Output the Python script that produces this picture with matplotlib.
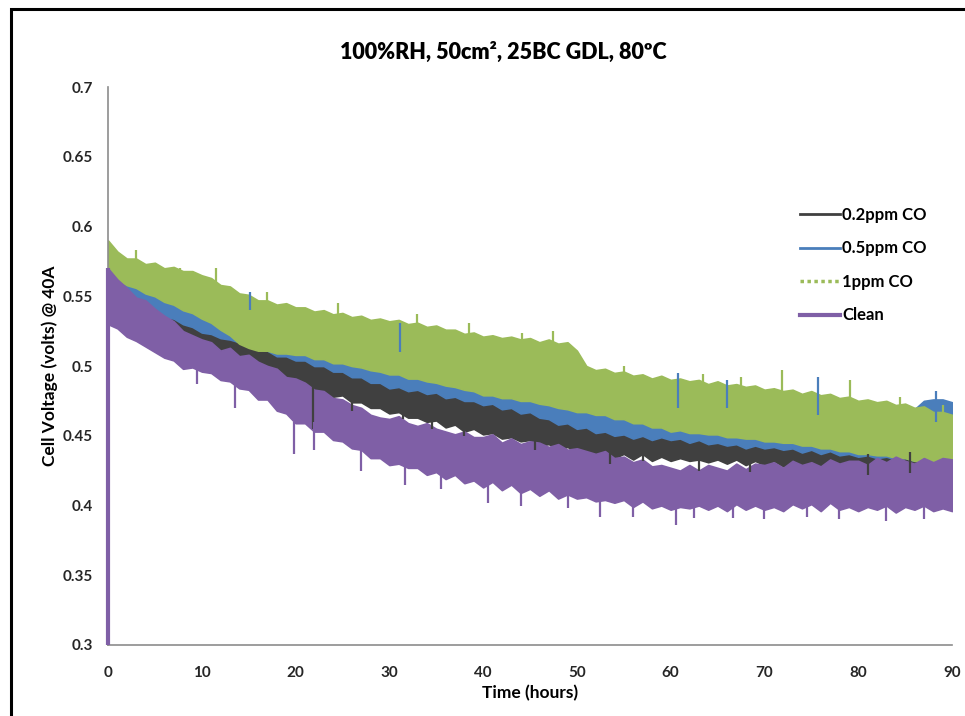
import numpy as np
import matplotlib
matplotlib.use("Agg")
import matplotlib.pyplot as plt
from matplotlib.lines import Line2D
from matplotlib.patches import Rectangle

plt.rcParams['font.family'] = ['Lato', 'DejaVu Sans']

# readings every hour, lower / upper edge of the noisy band (volts)
hours = np.arange(91)

clean_hi = [.570, .562, .556, .549, .547, .541, .536, .532, .525, .522,
            .519, .517, .511, .513, .507, .508, .503, .500, .498, .492,
            .491, .488, .483, .482, .477, .476, .472, .470, .465, .463,
            .462, .464, .459, .457, .459, .455, .453, .451, .453, .449,
            .449, .451, .445, .448, .444, .446, .445, .442, .444, .440,
            .441, .439, .437, .439, .434, .435, .431, .433, .428, .429,
            .427, .425, .429, .425, .429, .427, .425, .430, .426, .430,
            .429, .431, .427, .432, .429, .431, .428, .433, .430, .432,
            .432, .429, .434, .431, .435, .432, .430, .434, .431, .434,
            .433]
clean_lo = [.530, .527, .521, .518, .514, .510, .506, .504, .498, .499,
            .496, .495, .490, .489, .484, .483, .476, .476, .468, .466,
            .459, .459, .453, .453, .447, .446, .441, .440, .434, .434,
            .429, .430, .427, .427, .422, .424, .419, .422, .416, .418,
            .413, .417, .411, .415, .409, .412, .407, .411, .405, .408,
            .405, .406, .403, .404, .402, .404, .399, .403, .398, .400,
            .397, .399, .398, .400, .397, .400, .396, .401, .397, .400,
            .397, .399, .396, .401, .398, .401, .396, .402, .397, .399,
            .396, .399, .397, .400, .395, .399, .397, .400, .396, .398,
            .396]

co02_hi = [.555, .552, .549, .548, .545, .545, .541, .542, .538, .540,
           .537, .535, .530, .528, .523, .523, .517, .517, .511, .511,
           .506, .507, .502, .503, .498, .499, .495, .496, .492, .494,
           .490, .491, .487, .488, .484, .486, .481, .482, .478, .479,
           .475, .477, .472, .474, .469, .471, .466, .468, .464, .465,
           .461, .463, .459, .461, .457, .459, .455, .457, .453, .455,
           .451, .453, .449, .451, .447, .449, .445, .447, .444, .446,
           .442, .445, .441, .445, .442, .444, .442, .444, .441, .444,
           .441, .443, .441, .443, .442, .443, .440, .443, .441, .442,
           .442]
co02_lo = [.530, .532, .529, .530, .526, .526, .521, .522, .517, .519,
           .514, .514, .509, .508, .503, .503, .497, .497, .492, .491,
           .486, .486, .482, .482, .478, .479, .474, .474, .470, .470,
           .466, .467, .463, .463, .460, .461, .456, .458, .453, .455,
           .451, .452, .448, .449, .446, .447, .443, .444, .440, .442,
           .438, .440, .436, .439, .434, .437, .433, .437, .432, .435,
           .432, .434, .432, .433, .431, .433, .430, .433, .429, .432,
           .429, .432, .428, .431, .428, .430, .428, .431, .427, .429,
           .427, .430, .426, .429, .427, .430, .427, .428, .426, .429,
           .428]

co05_hi = [.570, .565, .561, .561, .557, .557, .554, .554, .550, .551,
           .548, .548, .545, .546, .543, .543, .537, .533, .526, .524,
           .519, .519, .516, .516, .513, .513, .510, .511, .507, .508,
           .505, .505, .502, .502, .499, .499, .495, .496, .492, .492,
           .489, .490, .487, .488, .485, .486, .484, .485, .483, .484,
           .482, .482, .478, .478, .475, .476, .471, .471, .467, .467,
           .468, .471, .472, .475, .477, .484, .485, .484, .481, .478,
           .472, .471, .467, .468, .467, .471, .470, .471, .471, .475,
           .472, .469, .465, .466, .466, .470, .469, .475, .476, .476,
           .474]
co05_lo = [.545, .544, .541, .541, .538, .538, .535, .534, .530, .528,
           .524, .523, .520, .519, .517, .515, .512, .511, .507, .507,
           .504, .504, .500, .500, .496, .496, .492, .492, .488, .488,
           .484, .485, .482, .483, .480, .481, .477, .478, .475, .475,
           .472, .473, .469, .470, .466, .467, .463, .462, .458, .459,
           .455, .456, .452, .453, .450, .451, .448, .450, .447, .449,
           .447, .448, .445, .447, .444, .445, .443, .444, .441, .443,
           .441, .442, .440, .441, .438, .440, .437, .439, .436, .437,
           .435, .436, .434, .435, .433, .434, .432, .433, .431, .433,
           .431]

co1_hi = [.590, .582, .577, .577, .573, .574, .570, .571, .568, .568,
          .565, .563, .558, .557, .552, .551, .547, .547, .544, .545,
          .542, .542, .539, .540, .537, .538, .535, .536, .533, .534,
          .532, .533, .530, .531, .528, .529, .526, .526, .523, .524,
          .521, .522, .520, .521, .519, .520, .517, .519, .516, .517,
          .511, .500, .497, .498, .495, .496, .493, .494, .491, .493,
          .490, .491, .489, .490, .487, .489, .486, .487, .485, .486,
          .483, .484, .482, .483, .480, .482, .479, .480, .477, .478,
          .475, .476, .474, .475, .472, .473, .470, .471, .467, .467,
          .465]
co1_lo = [.565, .562, .558, .556, .552, .550, .546, .544, .540, .538,
          .534, .531, .526, .522, .516, .513, .511, .511, .509, .509,
          .508, .508, .505, .505, .502, .502, .500, .499, .497, .496,
          .494, .494, .491, .491, .489, .488, .486, .485, .483, .482,
          .479, .479, .477, .477, .475, .475, .473, .472, .470, .469,
          .467, .467, .465, .465, .462, .462, .459, .459, .456, .456,
          .453, .454, .452, .452, .451, .451, .449, .449, .448, .448,
          .446, .446, .445, .445, .443, .443, .441, .441, .439, .439,
          .437, .437, .436, .436, .434, .434, .432, .432, .431, .431,
          .430]

# single spikes sticking out of the bands
co02_spike_t = [21.9, 26.0, 31.5, 34.5, 38.0, 45.5, 53.5, 57.0, 63.0, 68.5, 81.0, 85.5]
co02_spike_lo = [0.455, 0.468, 0.462, 0.455, 0.450, 0.440, 0.430, 0.432, 0.425, 0.424, 0.422, 0.423]
co02_spike_hi = [0.490, 0.483, 0.480, 0.470, 0.465, 0.455, 0.445, 0.445, 0.440, 0.439, 0.437, 0.438]
co05_spike_t = [15.1, 31.1, 60.8, 66.0, 75.7, 88.3]
co05_spike_lo = [0.540, 0.510, 0.470, 0.470, 0.465, 0.460]
co05_spike_hi = [0.553, 0.531, 0.495, 0.490, 0.492, 0.482]
co1_spike_t = [3.0, 7.7, 11.5, 17.0, 24.5, 33.0, 38.5, 44.1, 47.5, 55.0, 63.5, 67.5, 71.9, 79.1, 84.5, 89.0]
co1_spike_lo = [0.568, 0.560, 0.555, 0.538, 0.530, 0.522, 0.516, 0.510, 0.510, 0.485,
                0.479, 0.477, 0.470, 0.470, 0.463, 0.457]
co1_spike_hi = [0.583, 0.570, 0.570, 0.553, 0.545, 0.537, 0.531, 0.524, 0.525, 0.500,
                0.494, 0.492, 0.497, 0.490, 0.478, 0.472]
clean_spike_t = [9.5, 13.5, 19.8, 22.0, 27.0, 31.7, 35.5, 40.5, 44.0, 49.0, 52.5, 56.0,
                 60.6, 62.5, 66.7, 70.0, 74.5, 78.0, 83.0, 87.0]
clean_spike_lo = [0.487, 0.470, 0.437, 0.440, 0.425, 0.415, 0.412, 0.402, 0.400, 0.398, 0.392, 0.392,
                  0.386, 0.391, 0.391, 0.390, 0.392, 0.390, 0.389, 0.390]
clean_spike_hi = [0.507, 0.490, 0.460, 0.460, 0.445, 0.435, 0.430, 0.420, 0.420, 0.420, 0.410, 0.410,
                  0.410, 0.410, 0.410, 0.410, 0.410, 0.410, 0.410, 0.410]

# clean run starts from 0.3 V at t=0
clean_start_t = [0.0, 0.0]
clean_start_v = [0.30, 0.57]

labels = ['0.2ppm CO', '0.5ppm CO', '1ppm CO', 'Clean']
colors = ['#404040', '#4a7ebb', '#9bbb59', '#7f5fa6']

fig = plt.figure(figsize=(9.65, 7.16), dpi=100)
ax = fig.add_axes([108 / 965, 1 - 645 / 716, (952 - 108) / 965, (645 - 87) / 716])

series = [
    (co02_lo, co02_hi, co02_spike_t, co02_spike_lo, co02_spike_hi),
    (co05_lo, co05_hi, co05_spike_t, co05_spike_lo, co05_spike_hi),
    (co1_lo, co1_hi, co1_spike_t, co1_spike_lo, co1_spike_hi),
    (clean_lo, clean_hi, clean_spike_t, clean_spike_lo, clean_spike_hi),
]
for (lo, hi, st, slo, shi), c in zip(series, colors):
    ax.fill_between(hours, lo, hi, color=c, linewidth=1.2, edgecolor=c)
    ax.vlines(st, slo, shi, color=c, linewidth=1.6)

ax.plot(clean_start_t, clean_start_v, color=colors[3], linewidth=3, solid_capstyle='butt',
        clip_on=False, zorder=3)

ax.set_xlim(0, 90)
ax.set_ylim(0.3, 0.7)
ax.set_xticks(np.arange(0, 91, 10))
ax.set_yticks([0.3, 0.35, 0.4, 0.45, 0.5, 0.55, 0.6, 0.65, 0.7])
ax.set_yticklabels(['0.3', '0.35', '0.4', '0.45', '0.5', '0.55', '0.6', '0.65', '0.7'])
ax.tick_params(length=0, labelsize=11, colors='#262626')
ax.tick_params(axis='y', pad=11)
ax.tick_params(axis='x', pad=15)
for lab in ax.get_xticklabels() + ax.get_yticklabels():
    lab.set_fontweight('bold')

for s in ['top', 'right']:
    ax.spines[s].set_visible(False)
for s in ['left', 'bottom']:
    ax.spines[s].set_color('#8c8c8c')
    ax.spines[s].set_linewidth(1.2)

ax.set_xlabel('Time (hours)', fontsize=12.5, fontweight='bold', labelpad=4)
ax.set_ylabel('Cell Voltage (volts) @ 40A', fontsize=12.5, fontweight='bold', labelpad=3)
fig.text(503 / 965, 1 - 52 / 716, '100%RH, 50cm², 25BC GDL, 80ºC', ha='center', va='center',
         fontsize=15.5, fontweight='heavy')

handles = [Line2D([], [], color=colors[0], linewidth=2),
           Line2D([], [], color=colors[1], linewidth=2),
           Line2D([], [], color=colors[2], linewidth=2.5, linestyle=(0, (1, 1))),
           Line2D([], [], color=colors[3], linewidth=3)]
leg = ax.legend(handles, labels, loc='upper left', bbox_to_anchor=(800 / 965, 1 - 207 / 716),
                bbox_transform=fig.transFigure, frameon=False, handlelength=2.4, handletextpad=0.15,
                labelspacing=1.05, borderpad=0, borderaxespad=0,
                prop={'size': 12, 'weight': 'bold'})

# black frame line on left and top edge
fig.patches.append(Rectangle((11 / 965, -0.1), 1.2, 1 - 9 / 716 + 0.1, transform=fig.transFigure,
                             fill=False, edgecolor='black', linewidth=2.2))

fig.savefig('out.png', dpi=100)
